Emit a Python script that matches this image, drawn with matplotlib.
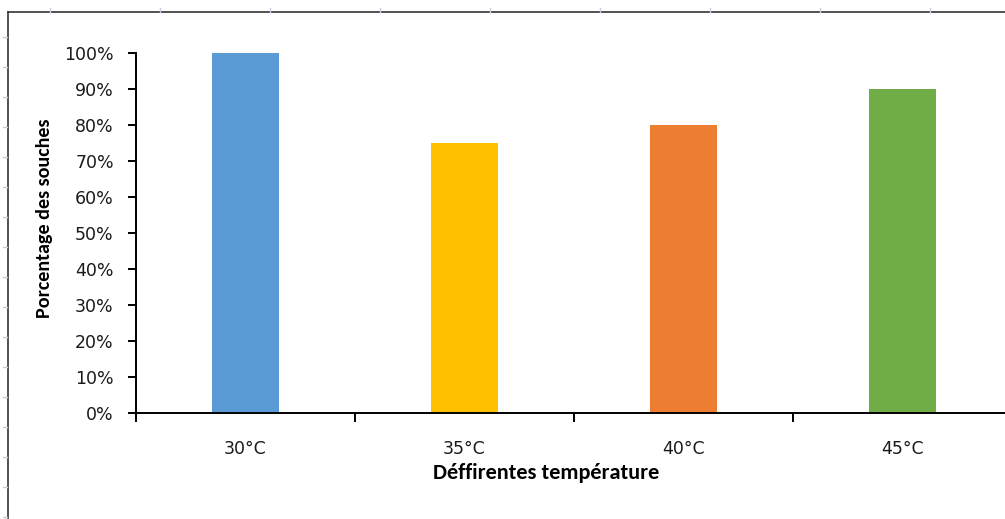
import matplotlib
matplotlib.use("Agg")
import matplotlib.pyplot as plt
from matplotlib.lines import Line2D
from matplotlib.ticker import PercentFormatter, FixedLocator

plt.rcParams["font.family"] = ["DejaVu Sans"]

categories = ["30°C", "35°C", "40°C", "45°C"]
values = [100, 75, 80, 90]
colors = ["#5B9BD5", "#FFC000", "#ED7D31", "#70AD47"]
yticks = [0, 10, 20, 30, 40, 50, 60, 70, 80, 90, 100]
xlabel = "Déffirentes température"
ylabel = "Porcentage des souches"

W, H = 1005, 519
fig = plt.figure(figsize=(W / 100, H / 100), dpi=100)
fig.patch.set_facecolor("white")

ax = fig.add_axes([136 / W, (H - 413) / H, 876 / W, 360 / H])
x = list(range(len(categories)))
ax.bar(x, values, width=0.31, color=colors, zorder=2)
ax.set_xlim(-0.5, len(categories) - 0.5)
ax.set_ylim(0, 100)

for s in ["top", "right"]:
    ax.spines[s].set_visible(False)
for s in ["left", "bottom"]:
    ax.spines[s].set_linewidth(1.4)
    ax.spines[s].set_color("#000000")

ax.set_yticks(yticks)
ax.yaxis.set_major_formatter(PercentFormatter(decimals=0))
ax.xaxis.set_major_locator(FixedLocator([i - 0.5 for i in range(len(categories) + 1)]))
ax.xaxis.set_minor_locator(FixedLocator(x))
ax.set_xticklabels([])
ax.set_xticklabels(categories, minor=True)
ax.tick_params(axis="x", which="major", direction="out", length=6.5, width=1.4, color="black")
ax.tick_params(axis="x", which="minor", length=0, pad=19.5, labelsize=12.5, labelcolor="#1a1a1a")
ax.tick_params(axis="y", direction="out", length=6, width=1.4, color="black", pad=10,
               labelsize=12.5, labelcolor="#1a1a1a")

lab_font = ["Carlito", "DejaVu Sans"]
fig.text(45 / W, 1 - 218 / H, ylabel, rotation=90, ha="center", va="center",
         family=lab_font, fontweight="bold", fontsize=14.5, color="#000000")
fig.text(546 / W, 1 - 473 / H, xlabel, ha="center", va="center",
         family=lab_font, fontweight="bold", fontsize=16, color="#000000")

# outer frame (top and left edge of the chart area)
fig.add_artist(Line2D([8 / W, 8 / W], [0, 1 - 12 / H], transform=fig.transFigure, color="#333333", lw=1.2))
fig.add_artist(Line2D([8 / W, 1], [1 - 12 / H, 1 - 12 / H], transform=fig.transFigure, color="#333333", lw=1.2))

# faint sheet grid marks outside the frame
for px in range(50, W, 110):
    fig.add_artist(Line2D([px / W, px / W], [1 - 8 / H, 1 - 12 / H], transform=fig.transFigure,
                          color="#c8cce0", lw=1))
for py in range(37, H, 30):
    fig.add_artist(Line2D([3 / W, 7 / W], [1 - py / H, 1 - py / H], transform=fig.transFigure,
                          color="#c8cce0", lw=1))

fig.savefig("out.png", dpi=100)
